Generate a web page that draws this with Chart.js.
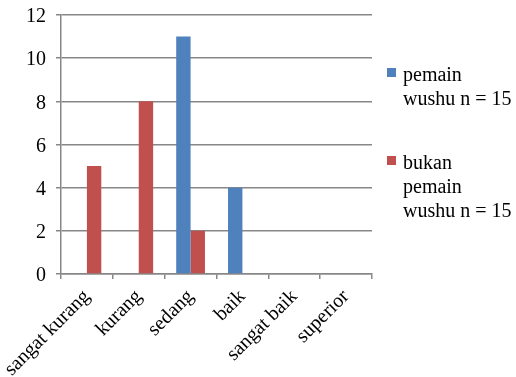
<!DOCTYPE html>
<html>
<head>
<meta charset="UTF-8">
<script src="https://cdn.jsdelivr.net/npm/chart.js"></script>
<style>
    body { margin: 0; background: #fff; }
    #wrap { position: relative; width: 516px; height: 377px; }
    #legend { position: absolute; left: 387px; top: 0; font-family: "Times New Roman", "Liberation Serif", serif; font-size: 20px; color: #000; }
    .item { position: absolute; left: 0; width: 130px; }
    .box { position: absolute; left: 0; top: 5px; width: 9px; height: 9px; }
    .txt { position: absolute; left: 16px; top: -1px; line-height: 24px; white-space: nowrap; }
</style>
</head>
<body>
<div id="wrap">
    <canvas id="grafico" width="516" height="377"></canvas>
    <div id="legend"></div>
</div>
<script>
    // dados
    var kategori = ['sangat kurang', 'kurang', 'sedang', 'baik', 'sangat baik', 'superior']
    var pemainWushu = [0, 0, 11, 4, 0, 0]
    var bukanPemain = [5, 8, 2, 0, 0, 0]
    var namaSeri = ['pemain wushu n = 15', 'bukan pemain wushu n = 15']
    var barisLegend = [['pemain', 'wushu n = 15'], ['bukan', 'pemain', 'wushu n = 15']]
    var yTicks = [0, 2, 4, 6, 8, 10, 12]

    var warna = ['#4F81BD', '#C0504D']
    var abu = '#878787'
    var huruf = '"Times New Roman", "Liberation Serif", serif'

    const data = {
        labels: kategori,
        datasets: [
            { label: namaSeri[0], data: pemainWushu, backgroundColor: warna[0] },
            { label: namaSeri[1], data: bukanPemain, backgroundColor: warna[1] }
        ]
    }

    const config = {
        type: 'bar',
        data: data,
        options: {
            responsive: false,
            animation: false,
            devicePixelRatio: 1,
            categoryPercentage: 0.555,
            barPercentage: 1,
            layout: { padding: { top: 15, right: 144, left: 0, bottom: 0 } },
            plugins: { legend: { display: false }, tooltip: { enabled: false } },
            scales: {
                x: {
                    afterFit: function (s) { s.height = 103; s.paddingLeft = 0; s.paddingRight = 0 },
                    grid: { drawOnChartArea: false, offset: true, color: abu, lineWidth: 1.5, tickLength: 5 },
                    border: { color: abu, width: 1.5 },
                    ticks: {
                        color: '#000', maxRotation: 45, minRotation: 45, padding: 6,
                        font: { family: huruf, size: 20 }
                    }
                },
                y: {
                    min: 0, max: 12,
                    afterFit: function (s) { s.width = 61; s.paddingTop = 0; s.paddingBottom = 0 },
                    afterBuildTicks: function (s) { s.ticks = yTicks.map(function (v) { return { value: v } }) },
                    grid: { color: abu, lineWidth: 1.5, tickLength: 5 },
                    border: { color: abu, width: 1.5 },
                    ticks: {
                        color: '#000', padding: 10, labelOffset: 2,
                        font: { family: huruf, size: 20 }
                    }
                }
            }
        }
    }

    const chart = new Chart(document.getElementById('grafico'), config)

    // legenda manual (texto quebrado como no original)
    var tops = [63, 151]
    var html = ''
    for (var i = 0; i < namaSeri.length; i++) {
        html += '<div class="item" style="top:' + tops[i] + 'px">' +
            '<div class="box" style="background:' + warna[i] + '"></div>' +
            '<div class="txt">' + barisLegend[i].join('<br>') + '</div></div>'
    }
    document.getElementById('legend').innerHTML = html
</script>
</body>
</html>
